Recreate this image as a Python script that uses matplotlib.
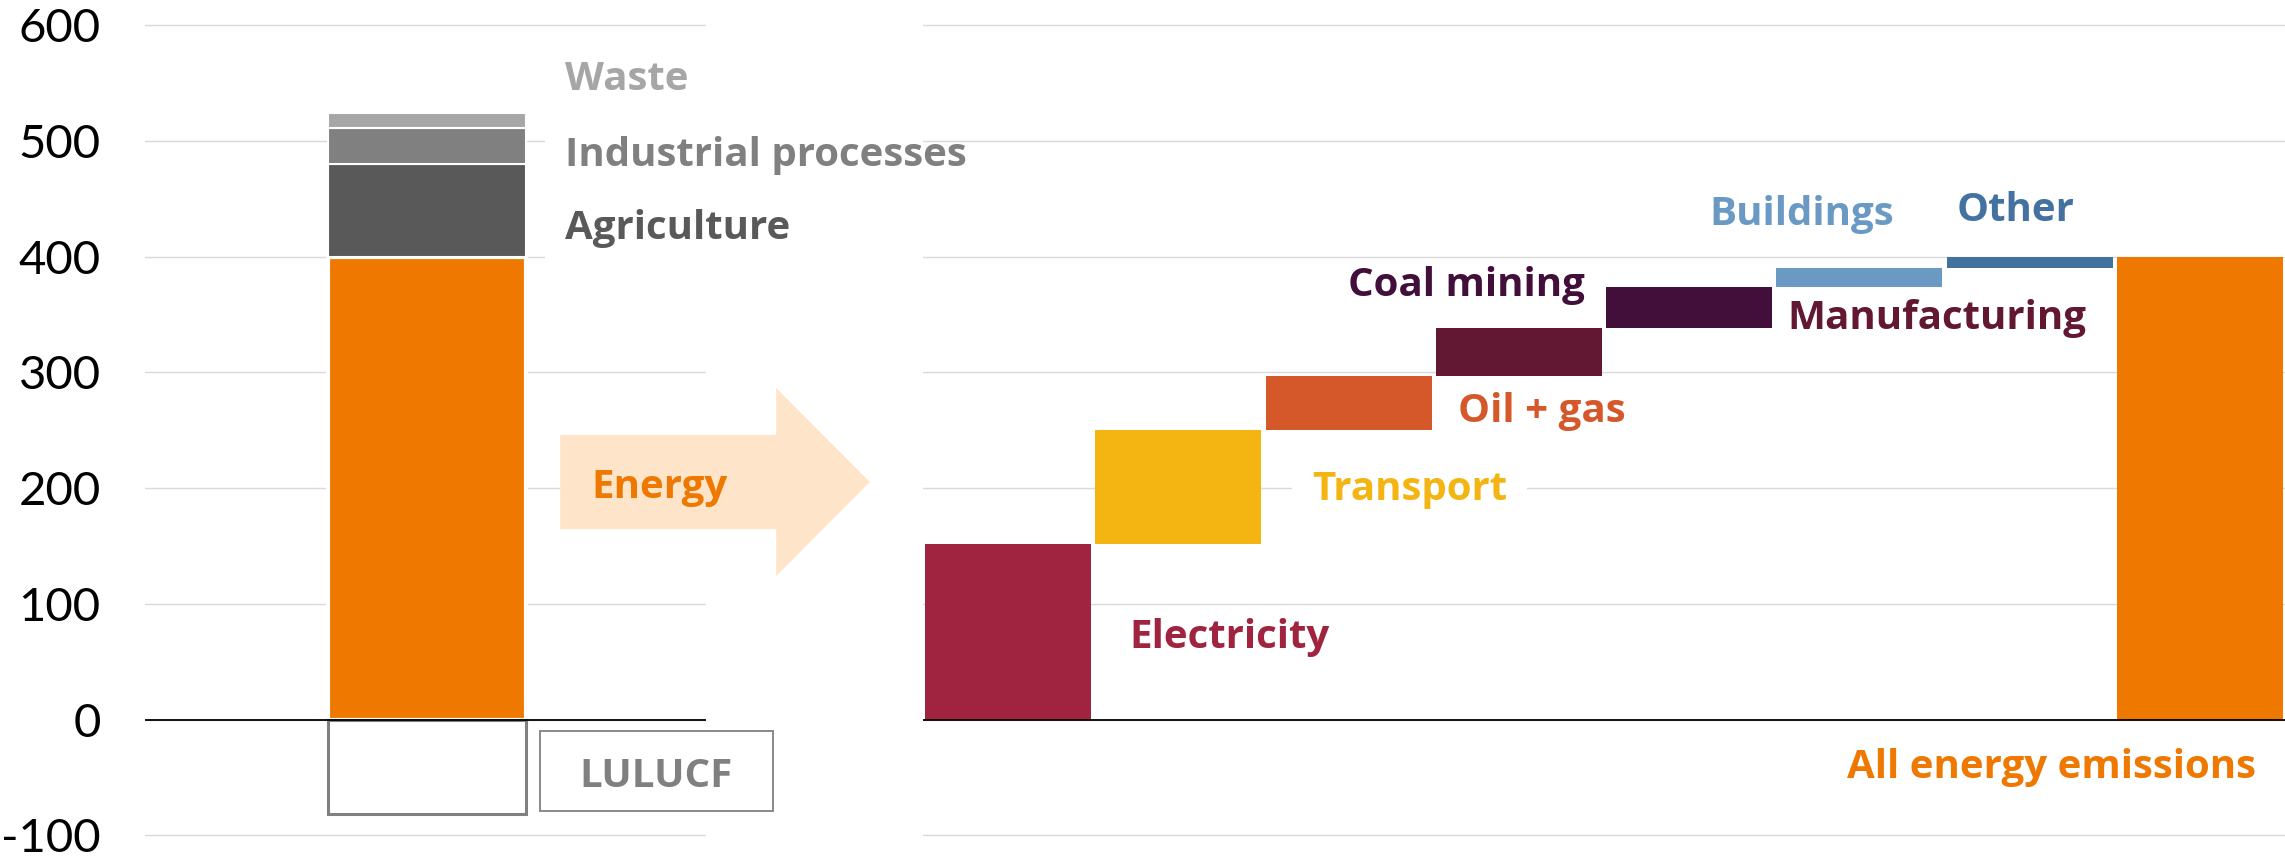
import matplotlib
matplotlib.use('Agg')
import matplotlib.pyplot as plt
import numpy as np
from matplotlib.patches import Polygon, Rectangle

plt.rcParams['font.family'] = ['Lato', 'DejaVu Sans']

# data
source_names = ['Energy', 'Agriculture', 'Industrial processes', 'Waste']
source_vals = [400, 80, 31, 13]
source_colors = ['#EE7800', '#595959', '#808080', '#A6A6A6']
lulucf_val = -82

sector_names = ['Electricity', 'Transport', 'Oil + gas', 'Manufacturing',
                'Coal mining', 'Buildings', 'Other']
sector_vals = [152, 98, 47, 41, 36, 16, 10]
sector_colors = ['#A02340', '#F4B512', '#D4582A', '#621832',
                 '#410F3A', '#6A9AC4', '#4472A0']
total_label = 'All energy emissions'
orange = '#EE7800'

yticks = [-100, 0, 100, 200, 300, 400, 500, 600]
ylim = (-118.8, 621.9)

LF = ['Open Sans', 'DejaVu Sans']  # label font
FS = 29

fig = plt.figure(figsize=(22.85, 8.57), dpi=100)

# ---- left panel: stacked bar of all sources ----
ax = fig.add_axes([0.0635, 0.0, 0.2455, 1.0])
ax.set_xlim(0, 1)
ax.set_ylim(*ylim)
ax.set_yticks(yticks)
ax.set_yticklabels([str(t) for t in yticks], fontsize=34)
ax.tick_params(axis='y', length=0, pad=32)
ax.set_xticks([])
for s in ax.spines.values():
    s.set_visible(False)
ax.yaxis.grid(True, color='#D9D9D9', lw=1.0, zorder=0)
ax.set_axisbelow(True)

bx, bw = 0.503, 0.353
bottom = 0
for i, (name, v, c) in enumerate(zip(source_names, source_vals, source_colors)):
    lw = 3.0 if i == 0 else 1.5
    ax.bar(bx, v, bw, bottom=bottom, color=c, edgecolor='white', lw=lw, zorder=3)
    bottom += v
ax.bar(bx, lulucf_val, bw, color='white', edgecolor='#808080', lw=2.2, zorder=3)
ax.axhline(0, color='black', lw=1.3, zorder=4)

# arrow "Energy"
arrow = Polygon([(0.740, 164.6), (0.740, 246), (1.125, 246), (1.125, 286.5),
                 (1.292, 205.3), (1.125, 124), (1.125, 164.6)],
                closed=True, facecolor='#FEE5CA', edgecolor='none',
                clip_on=False, zorder=2)
ax.add_patch(arrow)
ax.text(0.795, 191.5, 'Energy', color=orange, fontsize=FS, fontweight='bold',
        family=LF, va='baseline', zorder=5)

box = dict(boxstyle='square,pad=0.5', fc='white', ec='none')
ax.text(0.749, 544, 'Waste', color=source_colors[3], fontsize=FS, family=LF,
        fontweight='bold', va='baseline', bbox=box, zorder=2.5)
ax.text(0.749, 478, 'Industrial processes', color=source_colors[2], fontsize=FS,
        family=LF, fontweight='bold', va='baseline', bbox=box, zorder=2.5)
ax.text(0.749, 415, 'Agriculture', color=source_colors[1], fontsize=FS,
        family=LF, fontweight='bold', va='baseline', bbox=box, zorder=2.5)

# LULUCF label box
ax.add_patch(Rectangle((0.704, -79), 0.415, 69, facecolor='white',
                       edgecolor='#808080', lw=1.3, clip_on=False, zorder=3))
ax.text(0.911, -58.3, 'LULUCF', color='#808080', fontsize=FS, fontweight='bold',
        family=LF, ha='center', va='baseline', zorder=5)

# ---- right panel: waterfall of energy sectors ----
ax2 = fig.add_axes([0.4039, 0.0, 0.5961, 1.0])
ax2.patch.set_visible(False)
ax2.set_xlim(-0.5, 7.5)
ax2.set_ylim(*ylim)
ax2.set_yticks(yticks)
ax2.set_yticklabels([])
ax2.tick_params(axis='y', length=0)
ax2.set_xticks([])
for s in ax2.spines.values():
    s.set_visible(False)
ax2.yaxis.grid(True, color='#D9D9D9', lw=1.0, zorder=0)
ax2.set_axisbelow(True)

starts = np.concatenate([[0], np.cumsum(sector_vals)[:-1]])
xs = np.arange(len(sector_vals))
ax2.bar(xs, sector_vals, 0.975, bottom=starts, color=sector_colors, zorder=3)
ax2.bar(len(sector_vals), sum(sector_vals), 0.975, color=orange, zorder=3)
ax2.axhline(0, color='black', lw=1.3, zorder=4)

lab = dict(fontsize=FS, fontweight='bold', family=LF, va='baseline', zorder=5)
ax2.text(0.71, 61.8, 'Electricity', color=sector_colors[0], **lab)
ax2.text(1.785, 189.7, 'Transport', color=sector_colors[1],
         bbox=box, **{**lab, 'zorder': 2.5})
ax2.text(2.64, 257, 'Oil + gas', color=sector_colors[2], **lab)
ax2.text(3.39, 366, 'Coal mining', color=sector_colors[4], ha='right', **lab)
ax2.text(4.58, 337.5, 'Manufacturing', color=sector_colors[3], **lab)
ax2.text(4.12, 427.5, 'Buildings', color=sector_colors[5], **lab)
ax2.text(5.57, 431, 'Other', color=sector_colors[6], **lab)
ax2.text(7.33, -50.6, total_label, color=orange, ha='right', **lab)

fig.savefig('out.png', dpi=100)
